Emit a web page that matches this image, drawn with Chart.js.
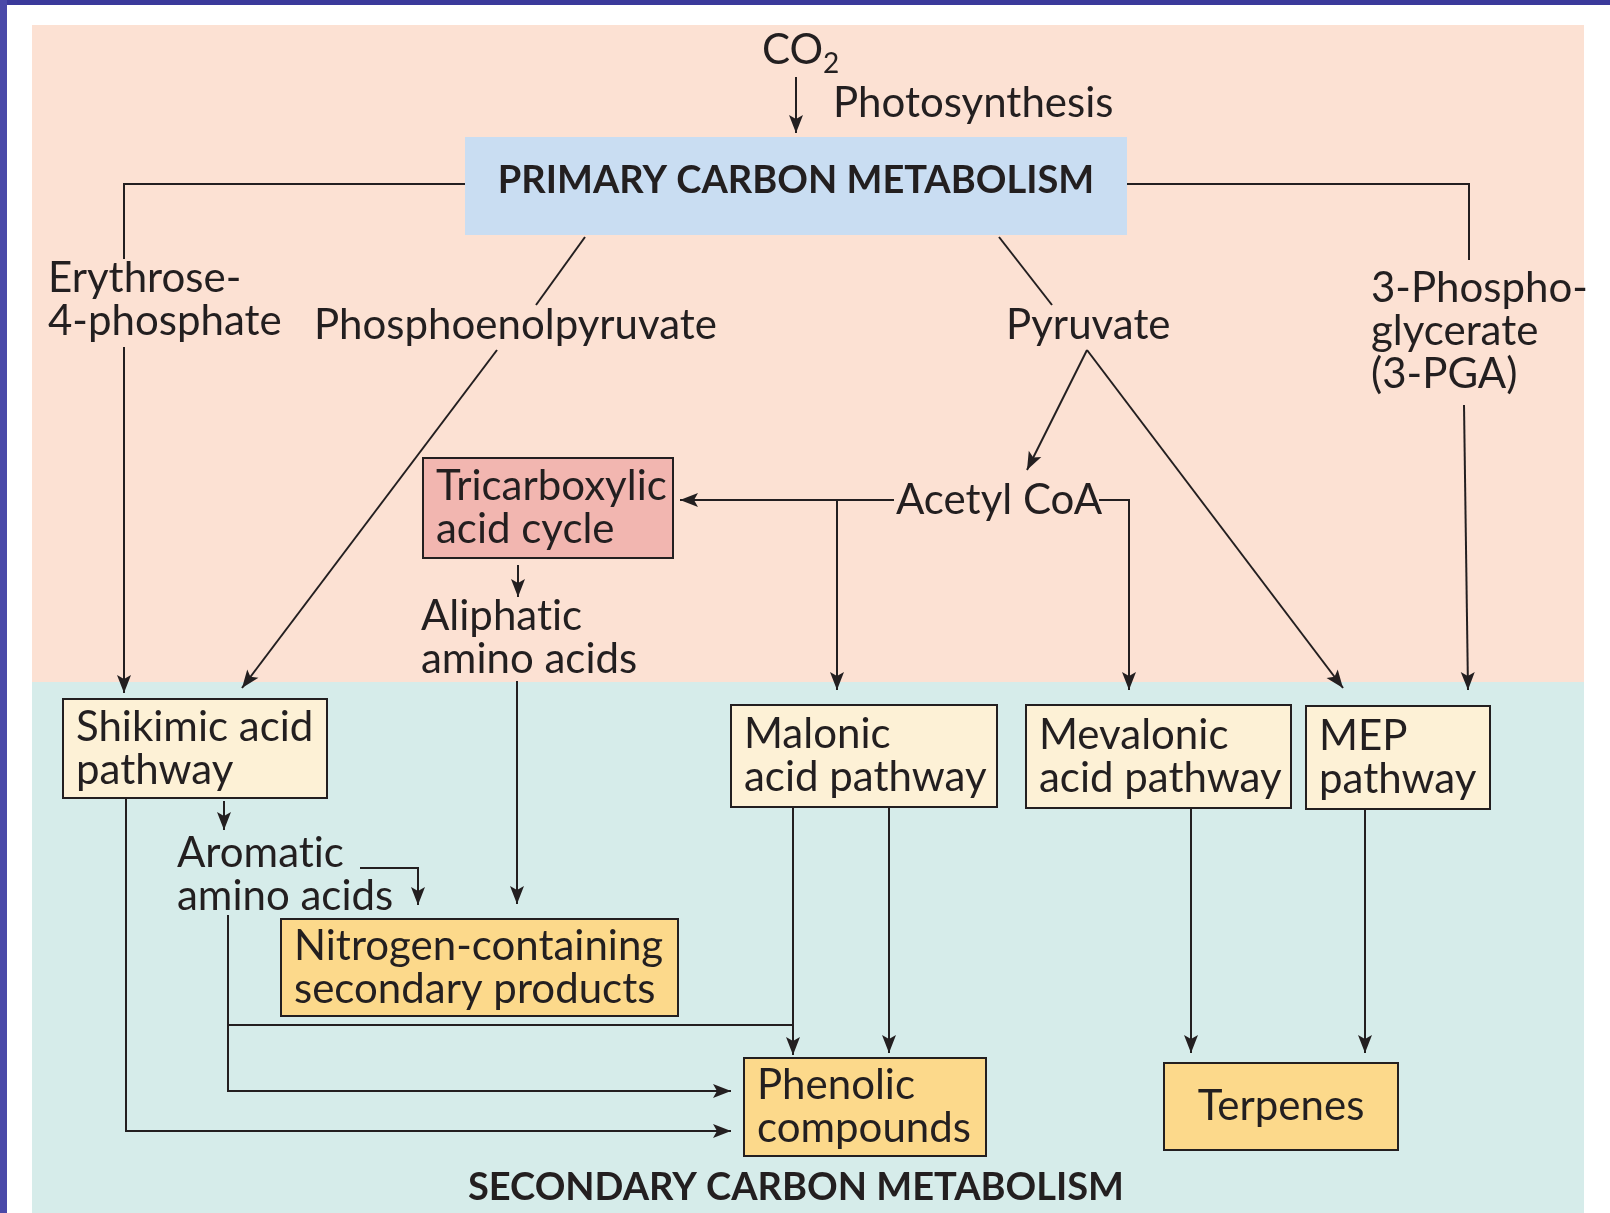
<!DOCTYPE html>
<html lang="en">
<head>
    <meta charset="UTF-8">
    <title>Primary and secondary carbon metabolism</title>
    <script src="https://cdn.jsdelivr.net/npm/chart.js"></script>
    <style>
        html, body { margin: 0; padding: 0; background: #fff; }
        #wrap { width: 1610px; height: 1213px; }
    </style>
</head>
<body>
<div id="wrap"><canvas id="flow" width="1610" height="1213"></canvas></div>
<script>
    // boxes: text lines and corners (x0, y0, x1, y1) in diagram units
    var boxLabels = [
        ['PRIMARY CARBON METABOLISM'],
        ['Tricarboxylic', 'acid cycle'],
        ['Shikimic acid', 'pathway'],
        ['Malonic', 'acid pathway'],
        ['Mevalonic', 'acid pathway'],
        ['MEP', 'pathway'],
        ['Nitrogen-containing', 'secondary products'],
        ['Phenolic', 'compounds'],
        ['Terpenes']
    ];
    var boxCorners = [
        [465, 137, 1127, 235],
        [423, 458, 673, 558],
        [63, 699, 327, 798],
        [731, 705, 997, 807],
        [1026, 705, 1291, 808],
        [1306, 706, 1490, 809],
        [281, 919, 678, 1016],
        [744, 1058, 986, 1156],
        [1164, 1063, 1398, 1150]
    ];
    var boxKind = ['primary', 'tca', 'path', 'path', 'path', 'path', 'product', 'product', 'product'];

    // loose labels (\u200c keeps Lato from joining "ti")
    var freeLabels = [
        ['Photosynthesis'],
        ['Erythrose-', '4-phosphate'],
        ['Phosphoenolpyruvate'],
        ['Pyruvate'],
        ['3-Phospho-', 'glycerate', '(3-PGA)'],
        ['Acetyl CoA'],
        ['Aliphat\u200cic', 'amino acids'],
        ['Aromat\u200cic', 'amino acids']
    ];
    var freeAnchor = [[833, 103], [48, 278], [314, 325], [1006, 325], [1371, 288], [896, 500], [421, 616], [177, 853]];
    var bottomTitle = 'SECONDARY CARBON METABOLISM';

    // connectors, each one a polyline; last point is the arrow tip when arrowed
    var links = [
        [[796, 77], [796, 133]],
        [[465, 184], [124, 184], [124, 259]],
        [[124, 347], [124, 693]],
        [[585, 237], [536, 305]],
        [[497, 350], [242, 688]],
        [[999, 237], [1052, 305]],
        [[1087, 350], [1027, 470]],
        [[1087, 350], [1343, 688]],
        [[1127, 184], [1469, 184], [1469, 260]],
        [[1464, 405], [1468, 690]],
        [[894, 500], [680, 500]],
        [[837, 500], [837, 690]],
        [[1099, 500], [1129, 500], [1129, 690]],
        [[518, 565], [518, 597]],
        [[517, 681], [517, 904]],
        [[224, 801], [224, 830]],
        [[360, 868], [418, 868], [418, 905]],
        [[228, 915], [228, 1091], [731, 1091]],
        [[228, 1025], [793, 1025]],
        [[793, 807], [793, 1055]],
        [[889, 807], [889, 1053]],
        [[126, 798], [126, 1131], [731, 1131]],
        [[1191, 808], [1191, 1053]],
        [[1365, 809], [1365, 1053]]
    ];
    var linkArrow = [true, false, true, false, true, false, true, true, false, true, true, true,
                     true, true, true, true, true, true, false, true, true, true, true, true];

    var ink = '#231f20';
    var fills = { primary: '#c9ddf2', tca: '#f2b6b0', path: '#fdf1d6', product: '#fcd98b' };
    var bodyFont = '42px Lato';
    var boldFont = 'bold 38px Lato';

    var diagram = {
        id: 'diagram',
        beforeDatasetsDraw: function(chart) {
            var c = chart.ctx, sx = chart.scales.x, sy = chart.scales.y;
            var X = function(v) { return sx.getPixelForValue(v); };
            var Y = function(v) { return sy.getPixelForValue(v); };
            c.save();
            // frame and the two regions
            c.fillStyle = '#ffffff';
            c.fillRect(0, 0, 1610, 1213);
            c.fillStyle = '#3b3a9b';
            c.fillRect(0, 0, 1610, Y(5));
            c.fillStyle = '#4a49a8';
            c.fillRect(0, 0, X(7), 1213);
            c.fillStyle = '#fce1d3';
            c.fillRect(X(32), Y(25), X(1584) - X(32), Y(682) - Y(25));
            c.fillStyle = '#d6ecea';
            c.fillRect(X(32), Y(682), X(1584) - X(32), Y(1213) - Y(682));

            boxCorners.forEach(function(b, i) {
                var x0 = X(b[0]), y0 = Y(b[1]), x1 = X(b[2]), y1 = Y(b[3]);
                c.fillStyle = fills[boxKind[i]];
                c.fillRect(x0, y0, x1 - x0, y1 - y0);
                if (boxKind[i] !== 'primary') {
                    c.strokeStyle = ink;
                    c.lineWidth = 2;
                    c.strokeRect(x0, y0, x1 - x0, y1 - y0);
                }
            });
            c.restore();
        },
        afterDatasetsDraw: function(chart) {
            var c = chart.ctx, sx = chart.scales.x, sy = chart.scales.y;
            var X = function(v) { return sx.getPixelForValue(v); };
            var Y = function(v) { return sy.getPixelForValue(v); };
            c.save();
            c.fillStyle = ink;
            c.textBaseline = 'middle';

            // arrowheads
            links.forEach(function(pts, i) {
                if (!linkArrow[i]) return;
                var a = pts[pts.length - 2], b = pts[pts.length - 1];
                var tx = X(b[0]), ty = Y(b[1]);
                var ang = Math.atan2(ty - Y(a[1]), tx - X(a[0]));
                c.save();
                c.translate(tx, ty);
                c.rotate(ang);
                c.beginPath();
                c.moveTo(0, 0);
                c.lineTo(-18, -7);
                c.lineTo(-14, 0);
                c.lineTo(-18, 7);
                c.closePath();
                c.fill();
                c.restore();
            });

            // box text
            boxLabels.forEach(function(lines, i) {
                var b = boxCorners[i];
                var kind = boxKind[i];
                var cy = (b[1] + b[3]) / 2;
                var gap = 43;
                var y = cy - (lines.length - 1) * gap / 2;
                if (kind === 'primary') {
                    c.font = boldFont;
                    c.textAlign = 'center';
                    c.fillText(lines[0], X((b[0] + b[2]) / 2), Y(181));
                    return;
                }
                c.font = bodyFont;
                if (lines.length === 1) {
                    c.textAlign = 'center';
                    c.fillText(lines[0], X((b[0] + b[2]) / 2), Y(cy));
                    return;
                }
                c.textAlign = 'left';
                lines.forEach(function(t, k) {
                    c.fillText(t, X(b[0] + 13), Y(y + k * gap));
                });
            });

            // loose labels
            c.font = bodyFont;
            c.textAlign = 'left';
            freeLabels.forEach(function(lines, i) {
                var p = freeAnchor[i];
                lines.forEach(function(t, k) {
                    c.fillText(t, X(p[0]), Y(p[1] + k * 43));
                });
            });

            // CO2 with subscript
            c.fillText('CO', X(762), Y(50));
            var w = c.measureText('CO').width;
            c.font = '28px Lato';
            c.fillText('2', X(762) + w, Y(64));

            c.font = boldFont;
            c.textAlign = 'center';
            c.fillText(bottomTitle, X(796), Y(1188));
            c.restore();
        }
    };

    var ctx = document.getElementById('flow').getContext('2d');
    var flowChart = new Chart(ctx, {
        type: 'scatter',
        data: {
            datasets: links.map(function(pts) {
                return {
                    data: pts.map(function(p) { return { x: p[0], y: p[1] }; }),
                    showLine: true,
                    borderColor: ink,
                    borderWidth: 2,
                    pointRadius: 0,
                    tension: 0,
                    fill: false
                };
            })
        },
        options: {
            responsive: false,
            animation: false,
            events: [],
            layout: { padding: 0 },
            plugins: {
                legend: { display: false },
                tooltip: { enabled: false }
            },
            scales: {
                x: { type: 'linear', min: 0, max: 1610, display: false },
                y: { type: 'linear', min: 0, max: 1213, reverse: true, display: false }
            }
        },
        plugins: [diagram]
    });
</script>
</body>
</html>
